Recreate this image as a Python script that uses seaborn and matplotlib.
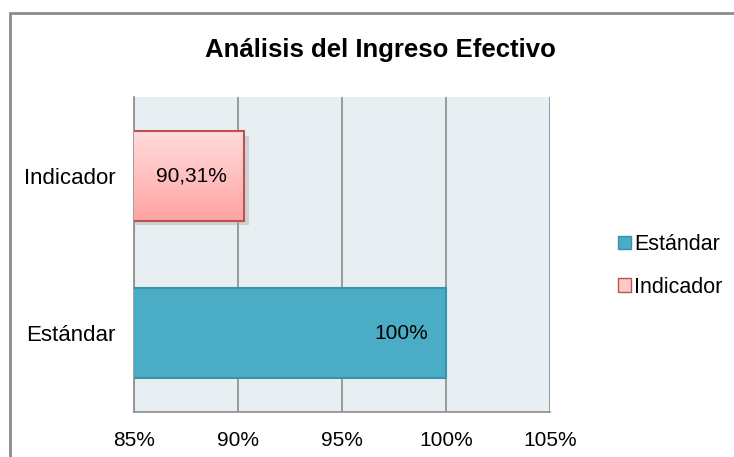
import matplotlib
matplotlib.use("Agg")
import matplotlib.pyplot as plt
import numpy as np
import seaborn as sns
from matplotlib.patches import Rectangle, Patch

# data
categorias = ["Estándar", "Indicador"]
valores = [100, 90.31]
etiquetas = ["100%", "90,31%"]
ticks = [85, 90, 95, 100, 105]

sns.set_style("white")
plt.rcParams["font.family"] = ["Liberation Sans", "DejaVu Sans"]
plt.rcParams["text.color"] = "black"
plt.rcParams["xtick.color"] = "black"
plt.rcParams["ytick.color"] = "black"

fig = plt.figure(figsize=(7.34, 4.57), dpi=100)
ax = fig.add_axes([134 / 734, 1 - 412 / 457, 416 / 734, 315 / 457])
ax.set_facecolor("#E8EFF3")

# outer chart border (top and left visible, rest cropped)
fig.patches.append(Rectangle((10 / 734, -0.1), 1.2, 1 - 13 / 457 + 0.1,
                             transform=fig.transFigure, fill=False,
                             edgecolor="#8C8C8C", linewidth=2))

orden = ["Indicador", "Estándar"]
sns.barplot(x=valores, y=categorias, orient="h", order=orden,
            hue=categorias, hue_order=orden, palette=["#FFC2C2", "#4BACC6"],
            saturation=1, legend=False, width=0.57, dodge=False, ax=ax, zorder=3)

bars = sorted([p for p in ax.patches if p.get_width() > 0], key=lambda p: p.get_y())
bar_ind, bar_est = bars[0], bars[1]
bar_est.set_edgecolor("#3A93AB")
bar_est.set_linewidth(1.5)
bar_ind.set_edgecolor("#C0504D")
bar_ind.set_linewidth(1.5)

ylim = ax.get_ylim()
xmin = ticks[0]

# gradient fill for Indicador
y0 = bar_ind.get_y()
w, h = bar_ind.get_width(), bar_ind.get_height()
grad = np.linspace(0, 1, 100).reshape(-1, 1)
cmap = matplotlib.colors.LinearSegmentedColormap.from_list("rosa", ["#FFDCDC", "#FFA3A3"])
ax.imshow(grad, cmap=cmap, aspect="auto", extent=[xmin, w, y0 + h, y0],
          zorder=3.5, origin="upper")
bar_ind.set_zorder(4)
bar_ind.set_facecolor("none")

# shadow
ax.add_patch(Rectangle((xmin, y0 + 0.03), w - xmin + 0.2, h, facecolor="#A8A8A8",
                       alpha=0.4, edgecolor="none", zorder=2.9))

ax.set_ylim(ylim)
ax.set_xlim(85, 105)
ax.set_xticks(ticks)
ax.set_xticklabels([f"{t}%" for t in ticks])
ax.tick_params(axis="x", length=0, labelsize=15, pad=14)
ax.tick_params(axis="y", length=0, labelsize=16, pad=13.5)
ax.set_xlabel("")
ax.set_ylabel("")
ax.xaxis.grid(True, color="#8C8C8C", linewidth=1.2, zorder=1)
ax.set_axisbelow(True)
for s in ["top", "right"]:
    ax.spines[s].set_visible(False)
for s in ["left", "bottom"]:
    ax.spines[s].set_color("#8C8C8C")
    ax.spines[s].set_linewidth(1.2)

# data labels inside end
yc_est = bar_est.get_y() + bar_est.get_height() / 2
yc_ind = bar_ind.get_y() + bar_ind.get_height() / 2
ax.text(valores[0] - 0.85, yc_est, etiquetas[0], ha="right", va="center", fontsize=15, zorder=5)
ax.text(valores[1] - 0.85, yc_ind, etiquetas[1], ha="right", va="center", fontsize=15, zorder=5)

fig.text(380 / 734, 1 - 50 / 457, "Análisis del Ingreso Efectivo", ha="center",
         va="center", fontsize=18.5, fontweight="bold")

# legend
handles = [Patch(facecolor="#4BACC6", edgecolor="#3A93AB", label="Estándar"),
           Patch(facecolor="#FFC8C8", edgecolor="#C0504D", label="Indicador")]
fig.legend(handles=handles, loc="center left", bbox_to_anchor=(618 / 734, 1 - 266 / 457),
           frameon=False, fontsize=15.5, handlelength=0.6, handleheight=0.6,
           handletextpad=0.15, labelspacing=1.0, borderaxespad=0, borderpad=0)

fig.savefig("out.png", dpi=100)
